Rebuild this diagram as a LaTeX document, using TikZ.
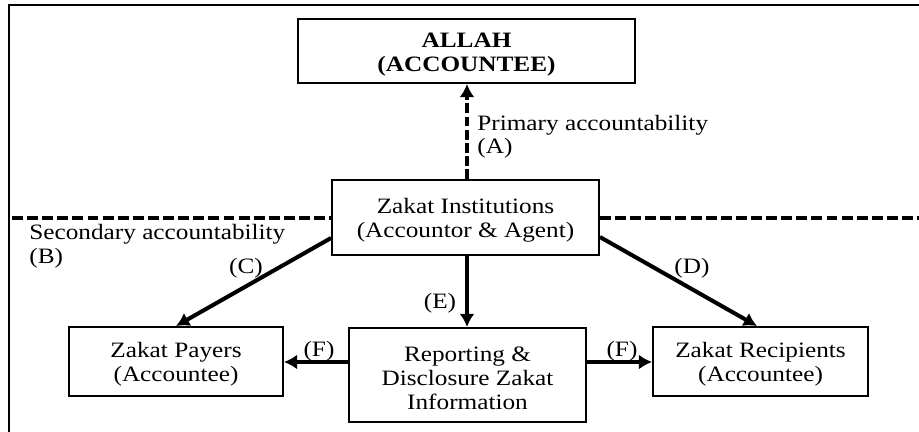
\documentclass[tikz,border=0pt]{standalone}
\usepackage{fontspec}
\setmainfont[FakeStretch=1.15]{Liberation Serif}
\usepackage{tikz}
\usetikzlibrary{arrows.meta}
\newcommand{\tallstrut}{\rule{0pt}{12pt}}

\begin{document}
\begin{tikzpicture}[x=0.02cm,y=-0.02cm]

\tikzset{box/.style={draw,line width=1.1pt,align=center,inner sep=0pt,font=\fontsize{12.5}{13.8}\selectfont},
         link/.style={line width=2.3pt,-{Latex[length=7.5pt,width=8.5pt]}},
         lbl/.style={font=\fontsize{12.5}{13.8}\selectfont,inner sep=0pt}}

\useasboundingbox (0,0) rectangle (919,432);
\draw[line width=1pt] (9,450) -- (9,5) -- (930,5);

\node[box,minimum width=6.74cm,minimum height=1.28cm] (allah) at (466.5,51) {\tallstrut\textbf{ALLAH}\\\textbf{(ACCOUNTEE)}};
\node[box,minimum width=5.34cm,minimum height=1.5cm] (inst) at (465.5,217.5) {\tallstrut Zakat Institutions\\(Accountor \& Agent)};
\node[box,minimum width=4.28cm,minimum height=1.38cm] (payers) at (176,361.5) {\tallstrut Zakat Payers\\(Accountee)};
\node[box,minimum width=4.74cm,minimum height=1.88cm] (report) at (467.5,375) {\tallstrut Reporting \&\\Disclosure Zakat\\Information};
\node[box,minimum width=4.3cm,minimum height=1.38cm] (recip) at (760.5,361.5) {\tallstrut Zakat Recipients\\(Accountee)};

\coordinate (lend) at (12,218);
\coordinate (rend) at (925,218);

\draw[line width=2.3pt,dash pattern=on 6.2pt off 2.4pt] (lend) -- (lend -| inst.west);
\draw[line width=2.3pt,dash pattern=on 6.2pt off 2.4pt] (rend -| inst.east) -- (rend);

\draw[link,dash pattern=on 5.5pt off 2pt] (inst.north -| 467,0) -- (allah.south -| 467,0);
\draw[link] (inst.south -| 467,0) -- (report.north -| 467,0);
\draw[link] (inst.west |- 0,238) -- (payers.north);
\draw[link] (inst.east |- 0,237) -- (recip.north -| 757,0);
\draw[link] (report.west |- 0,362) -- (payers.east |- 0,362);
\draw[link] (report.east |- 0,362) -- (recip.west |- 0,362);

\node[lbl,anchor=west] (prim) at (477,125) {Primary accountability};
\node[lbl,anchor=west] (pa) at (477,148) {(A)};
\node[lbl,anchor=west] (sec) at (29,234) {Secondary accountability};
\node[lbl,anchor=west] (sb) at (29,258) {(B)};
\node[lbl] (lc) at (246,268) {(C)};
\node[lbl] (ld) at (692,268) {(D)};
\node[lbl] (le) at (440,303) {(E)};
\node[lbl] (lf1) at (319,351) {(F)};
\node[lbl] (lf2) at (622,351) {(F)};

\end{tikzpicture}
\end{document}
